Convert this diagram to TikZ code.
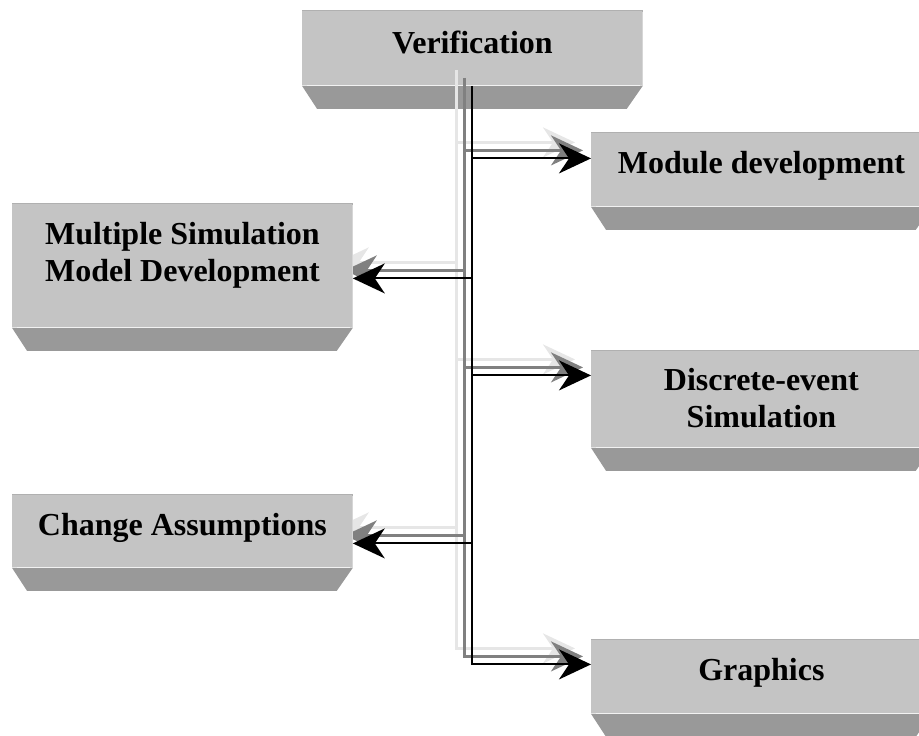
\documentclass[tikz,border=0pt]{standalone}
\usepackage{fontspec}
\setmainfont{Liberation Serif}
\usetikzlibrary{positioning,arrows.meta,calc}
\definecolor{slabface}{HTML}{C4C4C4}
\definecolor{slabband}{HTML}{999999}
\definecolor{slabedge}{HTML}{E4E4E4}
\definecolor{slabrim}{HTML}{D6D6D6}
\definecolor{slabtop}{HTML}{B0B0B0}
\definecolor{shadelight}{HTML}{E6E6E6}
\definecolor{shadegrey}{HTML}{808080}
\pgfdeclarelayer{back}
\pgfsetlayers{back,main}
\tikzset{
  slab/.style = {fill=slabface, minimum width=170pt, inner xsep=0pt, inner ysep=0pt,
                 align=center, anchor=north west,
                 font=\bfseries\fontsize{16}{18.5}\selectfont,
                 append after command={\pgfextra{\let\slabnode\tikzlastnode
                   \fill[slabband] (\slabnode.south west) -- (\slabnode.south east)
                     -- ($(\slabnode.south east)+(-16,23)$) -- ($(\slabnode.south west)+(15,23)$) -- cycle;
                   \fill[slabedge] (\slabnode.north west) rectangle ($(\slabnode.south west)+(5,0)$);
                   \fill[slabrim] (\slabnode.north east) rectangle ($(\slabnode.south east)+(-3,0)$);
                   \draw[slabtop, line width=1pt] (\slabnode.north west) -- (\slabnode.north east);
                 }}},
  flow/.style = {-{Stealth[length=16pt, width=15pt, inset=5pt]}, line width=1pt},
  shadow/.style = {flow, line width=1.4pt},
}

\begin{document}
\begin{tikzpicture}[x=0.5pt, y=-0.5pt]
  \useasboundingbox (0,0) rectangle (919,735);

  \begin{pgfonlayer}{back}
    \node[slab, text height=21pt, text depth=16pt] (ver) at (302,11) {Verification};
  \end{pgfonlayer}

  \node[slab, text height=20pt, text depth=16.5pt] (mod) at (591,133) {Module development};
  \node[slab, text height=38.5pt, text depth=23pt] (msm) at (12,204)
       {Multiple Simulation\\ Model Development};
  \node[slab, text height=38pt, text depth=10pt] (des) at (591,351)
       {Discrete-event\\ Simulation};
  \node[slab, text height=20pt, text depth=16pt] (chg) at (12,495) {Change Assumptions};
  \node[slab, text height=20pt, text depth=16.5pt] (gfx) at (591,640) {Graphics};

  % where the arrows meet the boxes
  \coordinate (modin) at ($(mod.west)+(0,-11.5)$);
  \coordinate (desin) at ($(des.west)+(0,-24)$);
  \coordinate (gfxin) at ($(gfx.west)+(0,-12.5)$);
  \coordinate (msmin) at ($(msm.east)+(0,12.5)$);
  \coordinate (chgin) at ($(chg.east)+(0,12)$);

  % shadow copies of the tree
  \begin{pgfonlayer}{back}
    \foreach \shade/\off in {shadelight/16, shadegrey/8} {
      \coordinate (stem) at ($(ver.south)+(-\off,-\off)$);
      \draw[shadow, draw=\shade] (stem) |- ($(gfxin)+(-\off,-\off)$);
      \foreach \tip in {modin, desin, msmin, chgin} {
        \coordinate (end) at ($(\tip)+(-\off,-\off)$);
        \draw[shadow, draw=\shade] (stem |- end) -- (end);
      }
    }
  \end{pgfonlayer}

  \draw[flow] (ver.south) |- (gfxin);
  \foreach \tip in {modin, desin, msmin, chgin}
    \draw[flow] (ver.south |- \tip) -- (\tip);
\end{tikzpicture}
\end{document}
